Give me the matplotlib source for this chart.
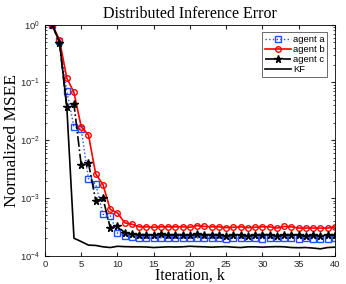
import numpy as np
import matplotlib.pyplot as plt

k = np.arange(1, 41)

agent_a = [1.0, 0.52, 0.072, 0.017, 0.0155, 2.16e-3, 1.74e-3, 5.2e-4, 4.9e-4, 2.45e-4,
           2.2e-4, 2.1e-4, 2.02e-4, 2.0e-4, 2.0e-4, 2.02e-4, 1.98e-4, 2.0e-4, 2.0e-4, 1.98e-4,
           2.02e-4, 2.0e-4, 1.98e-4, 2.0e-4, 1.97e-4, 2.0e-4, 1.98e-4, 2.0e-4, 2.0e-4, 1.97e-4,
           2.0e-4, 1.98e-4, 2.0e-4, 2.0e-4, 1.97e-4, 1.98e-4, 1.96e-4, 1.97e-4, 1.97e-4, 1.99e-4]
agent_b = [1.0, 0.55, 0.12, 0.067, 0.017, 0.0123, 2.6e-3, 1.7e-3, 6.3e-4, 5.5e-4,
           3.7e-4, 3.5e-4, 3.15e-4, 3.15e-4, 3.1e-4, 3.15e-4, 3.15e-4, 3.15e-4, 3.15e-4, 3.1e-4,
           3.3e-4, 3.2e-4, 3.15e-4, 3.15e-4, 3.05e-4, 3.1e-4, 3.15e-4, 3.05e-4, 3.1e-4, 3.15e-4,
           3.15e-4, 3.0e-4, 3.2e-4, 3.15e-4, 3.0e-4, 3.0e-4, 3.0e-4, 3.0e-4, 3.0e-4, 3.15e-4]
agent_c = [1.0, 0.48, 0.038, 0.042, 3.7e-3, 4.0e-3, 8.9e-4, 9.8e-4, 3.06e-4, 3.2e-4,
           2.5e-4, 2.4e-4, 2.3e-4, 2.3e-4, 2.25e-4, 2.35e-4, 2.3e-4, 2.3e-4, 2.3e-4, 2.25e-4,
           2.35e-4, 2.3e-4, 2.3e-4, 2.3e-4, 2.2e-4, 2.3e-4, 2.25e-4, 2.2e-4, 2.3e-4, 2.3e-4,
           2.3e-4, 2.2e-4, 2.3e-4, 2.3e-4, 2.25e-4, 2.2e-4, 2.25e-4, 2.2e-4, 2.25e-4, 2.25e-4]
kf = [1.0, 0.5, 0.04, 2.0e-4, 1.75e-4, 1.52e-4, 1.5e-4, 1.42e-4, 1.38e-4, 1.45e-4,
      1.43e-4, 1.42e-4, 1.42e-4, 1.41e-4, 1.38e-4, 1.4e-4, 1.42e-4, 1.41e-4, 1.42e-4, 1.45e-4,
      1.43e-4, 1.42e-4, 1.4e-4, 1.42e-4, 1.43e-4, 1.4e-4, 1.38e-4, 1.42e-4, 1.42e-4, 1.4e-4,
      1.42e-4, 1.43e-4, 1.42e-4, 1.38e-4, 1.37e-4, 1.38e-4, 1.35e-4, 1.31e-4, 1.38e-4, 1.4e-4]

serif = ['Liberation Serif', 'DejaVu Serif']
plt.rcParams['font.family'] = ['Liberation Sans', 'DejaVu Sans']
plt.rcParams['mathtext.fontset'] = 'custom'
plt.rcParams['mathtext.rm'] = 'Liberation Sans'

fig = plt.figure(figsize=(3.46, 2.84), dpi=100)
ax = fig.add_axes([0.13, 0.1, 0.838, 0.813])

ax.semilogy(k, agent_a, ':', color='#2050ff', lw=1.0, marker='s', ms=4, mfc='none', mew=1.0, label='agent a')
ax.semilogy(k, agent_b, '-', color='red', lw=1.2, marker='o', ms=4, mfc='none', mew=1.0, label='agent b')
ax.semilogy(k, agent_c, '-.', color='black', lw=1.2, marker='*', ms=5.5, mew=1.0, label='agent c')
ax.semilogy(k, kf, '-', color='black', lw=1.2, label='KF')

ax.set_xlim(0, 40)
ax.set_ylim(1e-4, 1)
ax.set_xticks(range(0, 41, 5))
ax.tick_params(which='both', direction='in', top=True, right=True, labelsize=6.8, colors='#262626')
ax.tick_params(which='major', length=3)
ax.tick_params(which='minor', length=1.5)
ax.set_title('Distributed Inference Error', family=serif, fontsize=11.5, pad=5)
ax.set_xlabel('Iteration, k', family=serif, fontsize=11.5, labelpad=-1)
ax.set_ylabel('Normalized MSEE', family=serif, fontsize=12.5, labelpad=0)
for s in ax.spines.values():
    s.set_linewidth(0.6)

leg = ax.legend(loc='upper right', fontsize=6.8, handlelength=2.8, fancybox=False,
                edgecolor='#262626', borderaxespad=0.8, labelspacing=0.1, handletextpad=0.2,
                borderpad=0.3)
leg.get_frame().set_linewidth(0.6)

fig.savefig('out.png', dpi=100)
